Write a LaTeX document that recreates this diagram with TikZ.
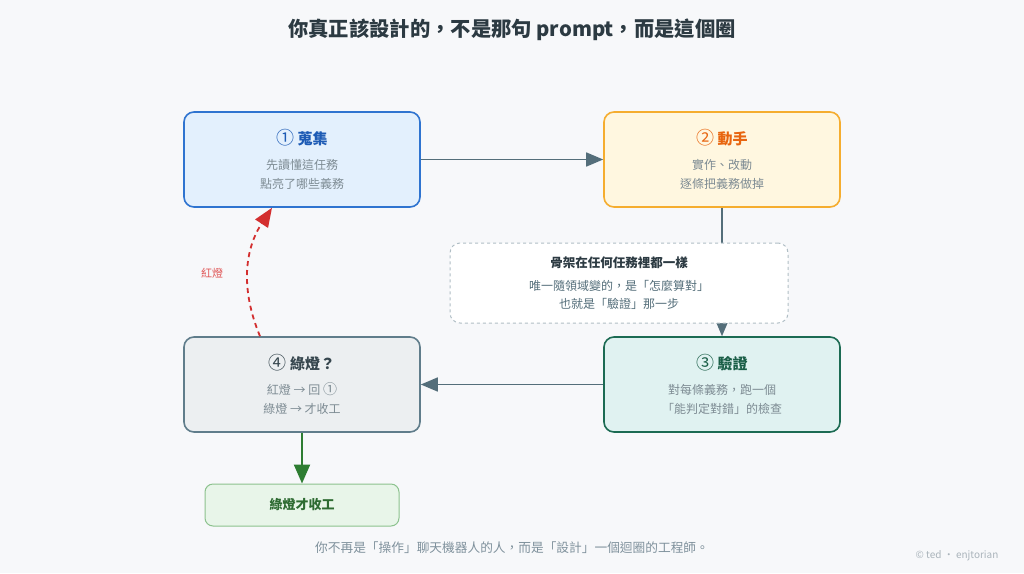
\documentclass[tikz,border=0pt]{standalone}
\usepackage{fontspec}
\setmainfont{Noto Sans CJK TC}
\usetikzlibrary{arrows.meta, positioning}

\definecolor{bgcol}{HTML}{F7F8FA}
\definecolor{headcol}{HTML}{2C3A42}
\definecolor{bodycol}{HTML}{7D8B93}
\definecolor{slate}{HTML}{546E7A}
\definecolor{blueline}{HTML}{2F74D0}
\definecolor{bluefill}{HTML}{E3F0FD}
\definecolor{bluetext}{HTML}{1D5BB5}
\definecolor{orangeline}{HTML}{F5AD2F}
\definecolor{orangefill}{HTML}{FFF7E0}
\definecolor{orangetext}{HTML}{E8650F}
\definecolor{tealline}{HTML}{1C6B53}
\definecolor{tealfill}{HTML}{E0F2F1}
\definecolor{tealtext}{HTML}{1A5E47}
\definecolor{grayline}{HTML}{607D8B}
\definecolor{grayfill}{HTML}{ECEFF1}
\definecolor{graytext}{HTML}{37474F}
\definecolor{noteline}{HTML}{B0BEC5}
\definecolor{redarrow}{HTML}{D32F2F}
\definecolor{redlabel}{HTML}{E05555}
\definecolor{greenarrow}{HTML}{2E7D32}
\definecolor{greenline}{HTML}{8CC28E}
\definecolor{greenfill}{HTML}{E8F5E9}
\definecolor{greentext}{HTML}{2E6B32}
\definecolor{footcol}{HTML}{7F919C}
\definecolor{copycol}{HTML}{AAB4BB}

\newcommand{\steptitle}{\fontsize{15}{18}\selectfont\bfseries}
\newcommand{\circnum}[2]{{\fontsize{#1}{18}\selectfont\mdseries #2}}

\begin{document}
\begin{tikzpicture}[
        x=1pt, y=-1pt,
        card/.style = {draw, rounded corners=10pt, line width=1.6pt, minimum width=236pt, minimum height=95pt, align=center, font=\fontsize{12}{19}\selectfont, text=bodycol},
        flow/.style = {draw=slate, line width=1.6pt, -{Triangle[length=17pt, width=14pt]}},
        notebox/.style = {draw=noteline, dashed, fill=white, rounded corners=10pt, line width=1pt, minimum width=338pt, minimum height=80pt, align=center, font=\fontsize{12}{18}\selectfont, text=slate},
        donebox/.style = {draw=greenline, fill=greenfill, rounded corners=8pt, line width=1pt, minimum width=194pt, minimum height=42pt, font=\fontsize{13}{16}\selectfont\bfseries, text=greentext}
    ]

    \fill[bgcol] (0,0) rectangle (1024,573);
    \useasboundingbox (0,0) rectangle (1024,573);

    \node[font=\fontsize{20.3}{24}\selectfont\bfseries, text=headcol] (title) at (512,30) {你真正該設計的，不是那句 prompt，而是這個圈};

    % the four steps of the loop
    \node [card, draw=blueline, fill=bluefill] (gather) at (302,159.5)
        {{\steptitle\color{bluetext}\circnum{18}{①} 蒐集}\\[6pt]先讀懂這任務\\點亮了哪些義務};
    \node [card, draw=orangeline, fill=orangefill] (act) at (722,159.5)
        {{\steptitle\color{orangetext}\circnum{18}{②} 動手}\\[6pt]實作、改動\\逐條把義務做掉};
    \node [card, draw=tealline, fill=tealfill] (verify) at (722,384.5)
        {{\steptitle\color{tealtext}\circnum{18}{③} 驗證}\\[6pt]對每條義務，跑一個\\「能判定對錯」的檢查};
    \node [card, draw=grayline, fill=grayfill] (check) at (302,384.5)
        {{\steptitle\color{graytext}\circnum{18}{④} 綠燈？}\\[6pt]紅燈 → 回 \circnum{14}{①}\\綠燈 → 才收工};

    \node [donebox] (done) at (302,505) {綠燈才收工};

    \draw [flow] (gather) -- (act);
    \draw [flow] (act.south) -- (verify.north);
    \draw [flow] (verify) -- (check);
    \draw [draw=greenarrow, line width=2.2pt, -{Triangle[length=19pt, width=16pt]}] (check.south) -- (done.north);
    \draw [draw=redarrow, line width=1.8pt, dash pattern=on 5pt off 4pt, -{Triangle[length=19pt, width=15pt]}]
        ([xshift=-42pt]check.north) to[bend left=28] ([xshift=-30pt]gather.south);
    \node [font=\fontsize{11}{13}\selectfont, text=redlabel] (redlbl) at (212,273) {紅燈};

    % note drawn over the act -> verify line
    \node [notebox] (note) at (619,283)
        {{\fontsize{12.5}{14}\selectfont\bfseries\color{headcol}骨架在任何任務裡都一樣}\\[5pt]唯一隨領域變的，是「怎麼算對」\\也就是「驗證」那一步};

    \node [font=\fontsize{12.7}{15}\selectfont, text=footcol] (foot) at (512,548) {你不再是「操作」聊天機器人的人，而是「設計」一個迴圈的工程師。};
    \node [font=\fontsize{10}{12}\selectfont, text=copycol] (copy) at (957,556) {© ted · enjtorian};

\end{tikzpicture}
\end{document}
